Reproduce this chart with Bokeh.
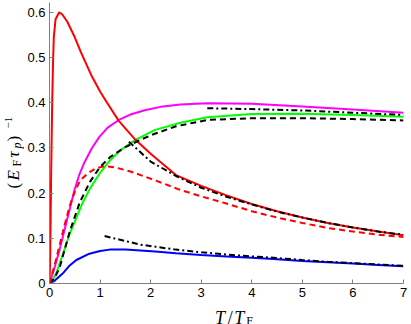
import math
from bokeh.plotting import figure
from bokeh.layouts import row, column
from bokeh.models import Range1d, FixedTicker
from bokeh.core.properties import value
from bokeh.embed import file_html
from bokeh.resources import INLINE

# ---- data ----
x_ticks = [0, 1, 2, 3, 4, 5, 6, 7]
x_tick_labels = ["0", "1", "2", "3", "4", "5", "6", "7"]
y_ticks = [0, 0.1, 0.2, 0.3, 0.4, 0.5, 0.6]
y_tick_labels = ["0", "0.1", "0.2", "0.3", "0.4", "0.5", "0.6"]

red_x = [0, 0.01, 0.02, 0.03, 0.04, 0.053, 0.07, 0.085, 0.12, 0.19, 0.25, 0.35, 0.5, 0.62,
         0.75, 0.84, 1.0, 1.11, 1.37, 1.7, 2.0, 2.5, 3.0, 3.5, 4.0, 4.5, 5.0, 5.5, 6.0, 6.5, 7.0]
red_y = [0, 0.04, 0.12, 0.22, 0.3, 0.4, 0.49, 0.545, 0.585, 0.6, 0.596, 0.58, 0.545, 0.512,
         0.48, 0.458, 0.425, 0.405, 0.36, 0.318, 0.287, 0.24, 0.216, 0.195, 0.176, 0.16, 0.146,
         0.134, 0.124, 0.115, 0.107]

red_dash_x = [0, 0.1, 0.2, 0.3, 0.4, 0.49, 0.58, 0.66, 0.8, 0.92, 1.09, 1.3, 1.6, 2.0, 2.59,
              3.0, 3.5, 4.0, 4.5, 5.0, 5.5, 6.0, 6.5, 7.0]
red_dash_y = [0, 0.04, 0.085, 0.13, 0.172, 0.2, 0.222, 0.234, 0.247, 0.255, 0.26, 0.257,
              0.248, 0.232, 0.207, 0.193, 0.177, 0.16, 0.146, 0.134, 0.123, 0.115, 0.108, 0.103]

mag_x = [0, 0.1, 0.2, 0.3, 0.4, 0.49, 0.58, 0.69, 0.84, 0.99, 1.15, 1.37, 1.6, 1.9, 2.2, 2.59,
         3.12, 4.0, 5.0, 6.0, 7.0]
mag_y = [0, 0.035, 0.075, 0.12, 0.165, 0.205, 0.238, 0.268, 0.3, 0.325, 0.345, 0.362, 0.374,
         0.384, 0.391, 0.396, 0.399, 0.398, 0.392, 0.385, 0.378]

green_x = [0, 0.05, 0.13, 0.25, 0.4, 0.66, 0.8, 1.0, 1.2, 1.4, 1.7, 2.09, 2.59, 3.12, 4.0,
           5.0, 6.0, 7.0]
green_y = [0, 0.005, 0.022, 0.06, 0.11, 0.18, 0.21, 0.245, 0.273, 0.295, 0.318, 0.34,
           0.356, 0.368, 0.375, 0.376, 0.373, 0.369]

gdash_x = [0, 0.1, 0.2, 0.4, 0.6, 0.8, 1.0, 1.2, 1.5, 1.8, 2.0, 2.5, 3.12, 4.0, 5.0, 6.0, 7.0]
gdash_y = [0, 0.012, 0.035, 0.115, 0.18, 0.225, 0.258, 0.28, 0.302, 0.318, 0.328, 0.348,
           0.362, 0.366, 0.366, 0.364, 0.361]

blue_x = [0, 0.1, 0.26, 0.4, 0.53, 0.79, 1.0, 1.19, 1.5, 1.8, 2.09, 2.5, 3.0, 3.5, 4.0, 4.43,
          5.0, 5.5, 6.0, 6.5, 7.0]
blue_y = [0, 0.006, 0.022, 0.04, 0.052, 0.066, 0.072, 0.075, 0.075, 0.073, 0.071, 0.067,
          0.063, 0.06, 0.057, 0.054, 0.05, 0.047, 0.044, 0.041, 0.038]

dd_red_x = [1.57, 2.0, 2.5, 3.0, 3.5, 4.0, 4.5, 5.0, 5.5, 6.0, 6.5, 7.0]
dd_red_y = [0.314, 0.27, 0.238, 0.212, 0.192, 0.175, 0.159, 0.146, 0.134, 0.124, 0.115, 0.108]

dd_mag_x = [3.12, 4.0, 5.0, 6.0, 7.0]
dd_mag_y = [0.388, 0.386, 0.383, 0.378, 0.373]

dd_blue_x = [1.09, 1.5, 1.8, 2.5, 3.0, 3.5, 4.0, 4.43, 5.0, 5.5, 6.0, 6.5, 7.0]
dd_blue_y = [0.105, 0.094, 0.086, 0.075, 0.069, 0.064, 0.06, 0.057, 0.052, 0.048, 0.045,
             0.042, 0.039]

# ---- main figure (page x 24..411, y 0..302) ----
p = figure(width=387, height=302, x_range=Range1d(0, 7), y_range=Range1d(0, 0.622),
           output_backend="svg", toolbar_location=None, title=None,
           min_border_left=25, min_border_right=8, min_border_top=2, min_border_bottom=19)
p.outline_line_color = None
p.grid.visible = False
p.background_fill_color = "white"
p.border_fill_color = "white"

for ax, ticks, labels in ((p.xaxis, x_ticks, x_tick_labels), (p.yaxis, y_ticks, y_tick_labels)):
    ax.ticker = FixedTicker(ticks=ticks)
    ax.major_label_overrides = dict(zip(ticks, labels))
    ax.major_tick_in = 4
    ax.major_tick_out = 0
    ax.minor_tick_line_color = None
    ax.axis_line_color = "#808080"
    ax.major_tick_line_color = "#808080"
    ax.major_label_text_font = "Liberation Sans"
    ax.major_label_text_font_size = "13px"
    ax.major_label_text_color = "black"
p.xaxis.major_label_standoff = 4
p.yaxis.major_label_standoff = 4

W = 2
p.line(blue_x, blue_y, color="#0000ff", line_width=W)
p.line(green_x, green_y, color="#00ff00", line_width=W)
p.line(mag_x, mag_y, color="#ff00ff", line_width=W)
p.line(red_x, red_y, color="#ff0000", line_width=W)
p.line(gdash_x, gdash_y, color="black", line_width=W, line_dash="6 4")
DD = "6 3 2 3"
p.line(dd_red_x, dd_red_y, color="black", line_width=W, line_dash=DD)
p.line(dd_mag_x, dd_mag_y, color="black", line_width=W, line_dash=DD)
p.line(dd_blue_x, dd_blue_y, color="black", line_width=W, line_dash=DD)
p.line(red_dash_x, red_dash_y, color="#ff0000", line_width=W, line_dash="6 4")

SERIF = value("Liberation Serif")


def title_fig(w, h):
    f = figure(width=w, height=h, x_range=Range1d(0, w), y_range=Range1d(0, h),
               output_backend="svg", toolbar_location=None, title=None,
               x_axis_location=None, y_axis_location=None,
               min_border_left=0, min_border_right=0, min_border_top=0, min_border_bottom=0)
    f.grid.visible = False
    f.outline_line_color = None
    f.background_fill_color = "white"
    f.border_fill_color = "white"
    return f


def put(f, text, x, y, size, italic=True, angle=0.0):
    f.text(x=[x], y=[y], text=[text], text_font=SERIF, text_font_size=f"{size}px",
           text_font_style="italic" if italic else "normal", text_color="black",
           text_align="left", text_baseline="alphabetic", angle=angle)


# x title (page x 24..411, y 302..324): T/T_F
xf = title_fig(387, 22)
put(xf, "T", 181, 7, 18)
put(xf, "/", 195, 7, 18, italic=False)
put(xf, "T", 202, 7, 18)
put(xf, "F", 215, 4, 12, italic=False)

# y title (page x 0..24, y 0..324): (E_F tau_p)^-1, rotated
yf = title_fig(24, 324)
A = math.pi / 2
put(yf, "(", 13, 136, 17, italic=False, angle=A)
put(yf, "E", 13, 144, 17, angle=A)
put(yf, "F", 16, 158, 12, italic=False, angle=A)
put(yf, "τ", 13, 167, 17, angle=A)
put(yf, "p", 16, 176, 12, angle=A)
put(yf, ")", 13, 183, 17, italic=False, angle=A)
put(yf, "−1", 8, 196, 11, italic=False, angle=A)

layout = row(yf, column(p, xf))
open("out.html", "w").write(file_html(layout, INLINE))
